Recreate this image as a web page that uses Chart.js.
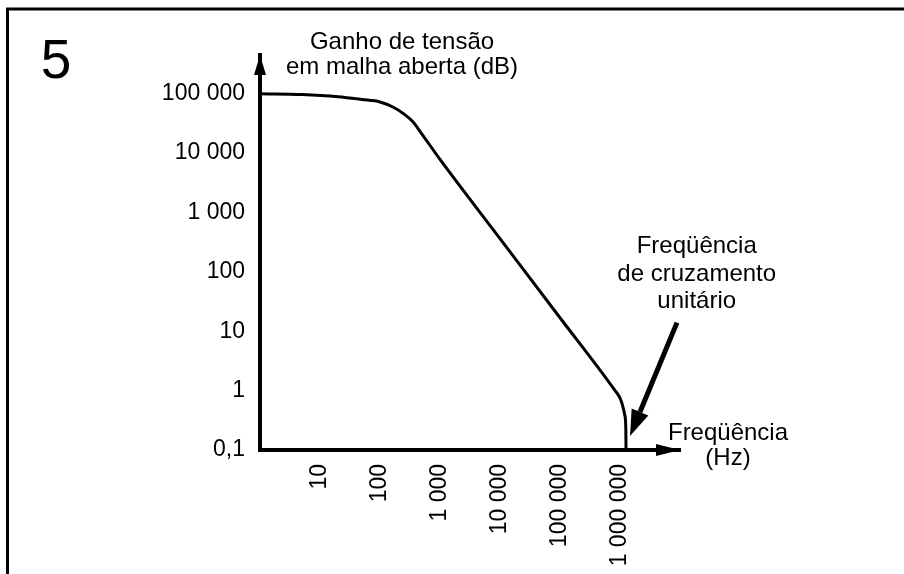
<!DOCTYPE html>
<html>
<head>
<meta charset="utf-8">
<script src="https://cdn.jsdelivr.net/npm/chart.js@4"></script>
<style>
  html, body { margin: 0; padding: 0; background: #fff; }
  #wrap { width: 904px; height: 574px; }
</style>
</head>
<body>
<div id="wrap"><canvas id="chart" width="904" height="574"></canvas></div>
<script>
// open-loop gain vs frequency (log-log)
const freqHz = [1, 5, 20, 50, 100, 170, 250, 350, 500, 1000, 10000, 100000, 800000, 1000000, 1100000, 1200000, 1250000, 1260000];
const gainValues = [100000, 97000, 89000, 80000, 72800, 58800, 45700, 34100, 21000, 7850, 364, 16.9, 1.05, 0.75, 0.57, 0.39, 0.23, 0.1];

const xTickValues = [10, 100, 1000, 10000, 100000, 1000000];
const xTickLabels = ["10", "100", "1 000", "10 000", "100 000", "1 000 000"];
const yTickValues = [0.1, 1, 10, 100, 1000, 10000, 100000];
const yTickLabels = ["0,1", "1", "10", "100", "1 000", "10 000", "100 000"];

const FONT = '"Liberation Sans", Arial, sans-serif';

const decorations = {
  id: "decorations",
  afterDraw(chart) {
    const { ctx, chartArea: a, scales: { x, y } } = chart;
    ctx.save();
    ctx.fillStyle = "#000";
    ctx.strokeStyle = "#000";

    // frame
    ctx.lineWidth = 3;
    ctx.beginPath();
    ctx.moveTo(7.5, 574);
    ctx.lineTo(7.5, 9);
    ctx.lineTo(904, 9);
    ctx.stroke();

    // axis arrowheads
    ctx.beginPath();
    ctx.moveTo(a.left, a.top);
    ctx.lineTo(a.left - 6, a.top + 20);
    ctx.lineTo(a.left + 6, a.top + 20);
    ctx.closePath();
    ctx.fill();
    ctx.beginPath();
    ctx.moveTo(a.right, a.bottom);
    ctx.lineTo(a.right - 24, a.bottom - 6);
    ctx.lineTo(a.right - 24, a.bottom + 6);
    ctx.closePath();
    ctx.fill();

    // pointer to the unity-gain crossing
    const tx = x.getPixelForValue(8.9e6), ty = y.getPixelForValue(14);
    const hx = x.getPixelForValue(1.47e6), hy = y.getPixelForValue(0.172);
    const ang = Math.atan2(hy - ty, hx - tx);
    const len = 26, half = 9;
    const bx = hx - len * Math.cos(ang), by = hy - len * Math.sin(ang);
    ctx.lineWidth = 5;
    ctx.beginPath();
    ctx.moveTo(tx, ty);
    ctx.lineTo(bx, by);
    ctx.stroke();
    ctx.beginPath();
    ctx.moveTo(hx, hy);
    ctx.lineTo(bx + half * Math.sin(ang), by - half * Math.cos(ang));
    ctx.lineTo(bx - half * Math.sin(ang), by + half * Math.cos(ang));
    ctx.closePath();
    ctx.fill();

    // texts
    ctx.textAlign = "center";
    ctx.textBaseline = "alphabetic";
    ctx.font = "55px " + FONT;
    ctx.fillText("5", 56, 78);

    ctx.font = "24px " + FONT;
    ctx.fillText("Ganho de tensão", 402, 49);
    ctx.fillText("em malha aberta (dB)", 402, 74);

    const nx = x.getPixelForValue(1.9e7);
    ctx.fillText("Freqüência", nx, 253);
    ctx.fillText("de cruzamento", nx, 281);
    ctx.fillText("unitário", nx, 308);

    ctx.fillText("Freqüência", a.right + 48, 440);
    ctx.fillText("(Hz)", a.right + 48, 465);
    ctx.restore();
  }
};

new Chart(document.getElementById("chart").getContext("2d"), {
  type: "scatter",
  data: {
    datasets: [{
      data: freqHz.map((f, i) => ({ x: f, y: gainValues[i] })),
      showLine: true,
      borderColor: "#000",
      borderWidth: 3,
      pointRadius: 0,
      cubicInterpolationMode: "monotone",
      clip: false
    }]
  },
  options: {
    responsive: false,
    animation: false,
    events: [],
    layout: { padding: { left: 0, right: 224, top: 55, bottom: 0 } },
    plugins: { legend: { display: false }, tooltip: { enabled: false } },
    scales: {
      x: {
        type: "logarithmic",
        min: 1,
        max: 10000000,
        grid: { display: false, drawTicks: false },
        border: { display: true, color: "#000", width: 4 },
        afterBuildTicks: s => { s.ticks = xTickValues.map(v => ({ value: v })); },
        afterFit: s => { s.height = 124; },
        ticks: {
          color: "#000",
          font: { family: FONT, size: 23 },
          minRotation: 90,
          maxRotation: 90,
          padding: 14,
          autoSkip: false,
          callback: (v, i) => xTickLabels[i]
        }
      },
      y: {
        type: "logarithmic",
        min: 0.1,
        max: 450000,
        grid: { display: false, drawTicks: false },
        border: { display: true, color: "#000", width: 4 },
        afterBuildTicks: s => { s.ticks = yTickValues.map(v => ({ value: v })); },
        afterFit: s => { s.width = 260; },
        ticks: {
          color: "#000",
          font: { family: FONT, size: 23 },
          padding: 15,
          autoSkip: false,
          callback: (v, i) => yTickLabels[i]
        }
      }
    }
  },
  plugins: [decorations]
});
</script>
</body>
</html>
